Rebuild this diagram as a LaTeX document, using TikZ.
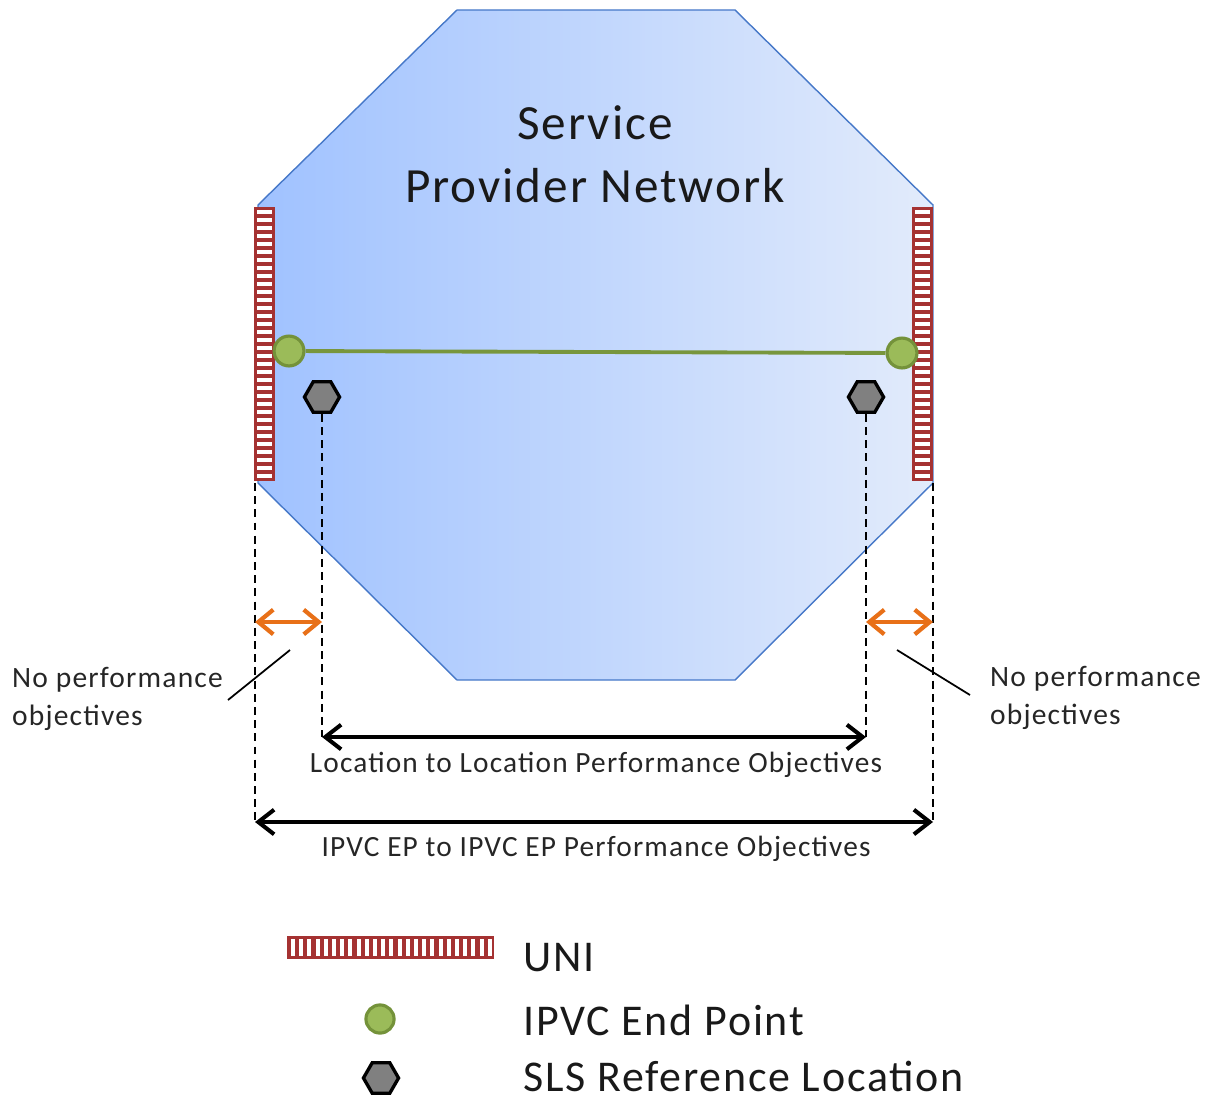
\documentclass[tikz,border=0pt]{standalone}
\usepackage{fontspec}
\setmainfont{Carlito}[LetterSpace=4]
\usetikzlibrary{positioning,calc,shapes.geometric,arrows.meta}

\definecolor{octL}{RGB}{160,194,255}
\definecolor{octR}{RGB}{226,235,251}
\definecolor{octB}{RGB}{70,120,200}
\definecolor{uniR}{RGB}{165,50,50}
\definecolor{epG}{RGB}{155,187,89}
\definecolor{epD}{RGB}{116,146,58}
\definecolor{slsG}{RGB}{128,128,128}
\definecolor{arrO}{RGB}{232,112,24}

\tikzset{
  endpt/.style={circle,fill=epG,draw=epD,line width=1.8pt,minimum size=17pt,inner sep=0pt},
  slsloc/.style={regular polygon,regular polygon sides=6,fill=slsG,draw=black,line width=1.9pt,minimum size=20pt,inner sep=0pt},
  dimline/.style={dashed,line width=1pt,dash pattern=on 4.5pt off 3pt},
  blkarrow/.style={line width=2.3pt,{Straight Barb[length=9pt,width=14pt]}-{Straight Barb[length=9pt,width=14pt]}},
  orgarrow/.style={arrO,line width=2.4pt,{Straight Barb[length=8.5pt,width=14pt]}-{Straight Barb[length=8.5pt,width=14pt]}},
  lbl/.style={font=\fontsize{16.7}{21.5}\selectfont,text=black!85},
  legtxt/.style={font=\fontsize{25}{28}\selectfont,anchor=base west,inner sep=0pt,text=black!90}
}

\begin{document}
\begin{tikzpicture}[x=0.02cm,y=-0.02cm]
    \useasboundingbox (0,0) rectangle (1210,1105);

    % network octagon
    \shade[left color=octL,right color=octR,draw=octB,line width=0.8pt]
      (457,10) -- (735,10) -- (933,205) -- (933,483) -- (735,680)
      -- (457,680) -- (258,483) -- (258,205) -- cycle;
    \node[align=center,font=\fontsize{28}{36}\selectfont,text=black!90] (spn) at (595,154)
      {Service\\Provider Network};

    % UNIs
    \fill[uniR] (254,207) rectangle (275,481);
    \foreach \k in {0,...,33}
      \fill[white] (257,210+\k*8) rectangle (272,214+\k*8);
    \fill[uniR] (912,207) rectangle (933,481);
    \foreach \k in {0,...,33}
      \fill[white] (915,210+\k*8) rectangle (930,214+\k*8);

    % IPVC end points
    \node[endpt] (epL) at (289,351) {};
    \node[endpt] (epR) at (902,353) {};
    \draw[epD!90!epG,line width=2.2pt] (epL) -- (epR);

    % SLS reference locations
    \node[slsloc] (slsL) at (322,397) {};
    \node[slsloc] (slsR) at (866,397) {};

    % dimension lines
    \coordinate (uniLb) at (255,483);
    \coordinate (uniRb) at (933,483);
    \coordinate (dimLL) at (255,822);
    \coordinate (dimRR) at (933,822);
    \coordinate (dimL) at (322,737);
    \coordinate (dimR) at (866,737);
    \draw[dimline] (uniLb) -- (dimLL);
    \draw[dimline] (uniRb) -- (dimRR);
    \draw[dimline] (slsL.south) -- (dimL);
    \draw[dimline] (slsR.south) -- (dimR);

    \draw[orgarrow] (255,622) -- (322,622);
    \draw[orgarrow] (866,622) -- (933,622);
    \draw[blkarrow] (dimL) -- (dimR);
    \draw[blkarrow] (dimLL) -- (dimRR);

    \node[lbl] (l2l) at (596,765) {Location to Location Performance Objectives};
    \node[lbl] (e2e) at (596,849) {IPVC EP to IPVC EP Performance Objectives};

    % no performance objectives
    \node[lbl,font=\fontsize{16.8}{21.5}\selectfont,align=left,anchor=west] (npL) at (6,699) {No performance\\objectives};
    \node[lbl,font=\fontsize{16.8}{21.5}\selectfont,align=left,anchor=west] (npR) at (984,698) {No performance\\objectives};
    \coordinate (ldL) at (290,650);
    \coordinate (ldR) at (897,650);
    \draw[line width=1pt] (228,700) -- (ldL);
    \draw[line width=1pt] (970,695) -- (ldR);

    % legend
    \fill[uniR] (287,936) rectangle (494,959);
    \foreach \k in {0,...,24}
      \fill[white] (291+\k*8.2,939) rectangle (295+\k*8.2,956);
    \node[endpt,minimum size=16pt] (legEp) at (380,1019) {};
    \node[slsloc] (legSls) at (381,1078) {};
    \node[legtxt] (tUni) at (523,971) {UNI};
    \node[legtxt] (tEp) at (523,1035) {IPVC End Point};
    \node[legtxt] (tSls) at (523,1091) {SLS Reference Location};
\end{tikzpicture}
\end{document}
